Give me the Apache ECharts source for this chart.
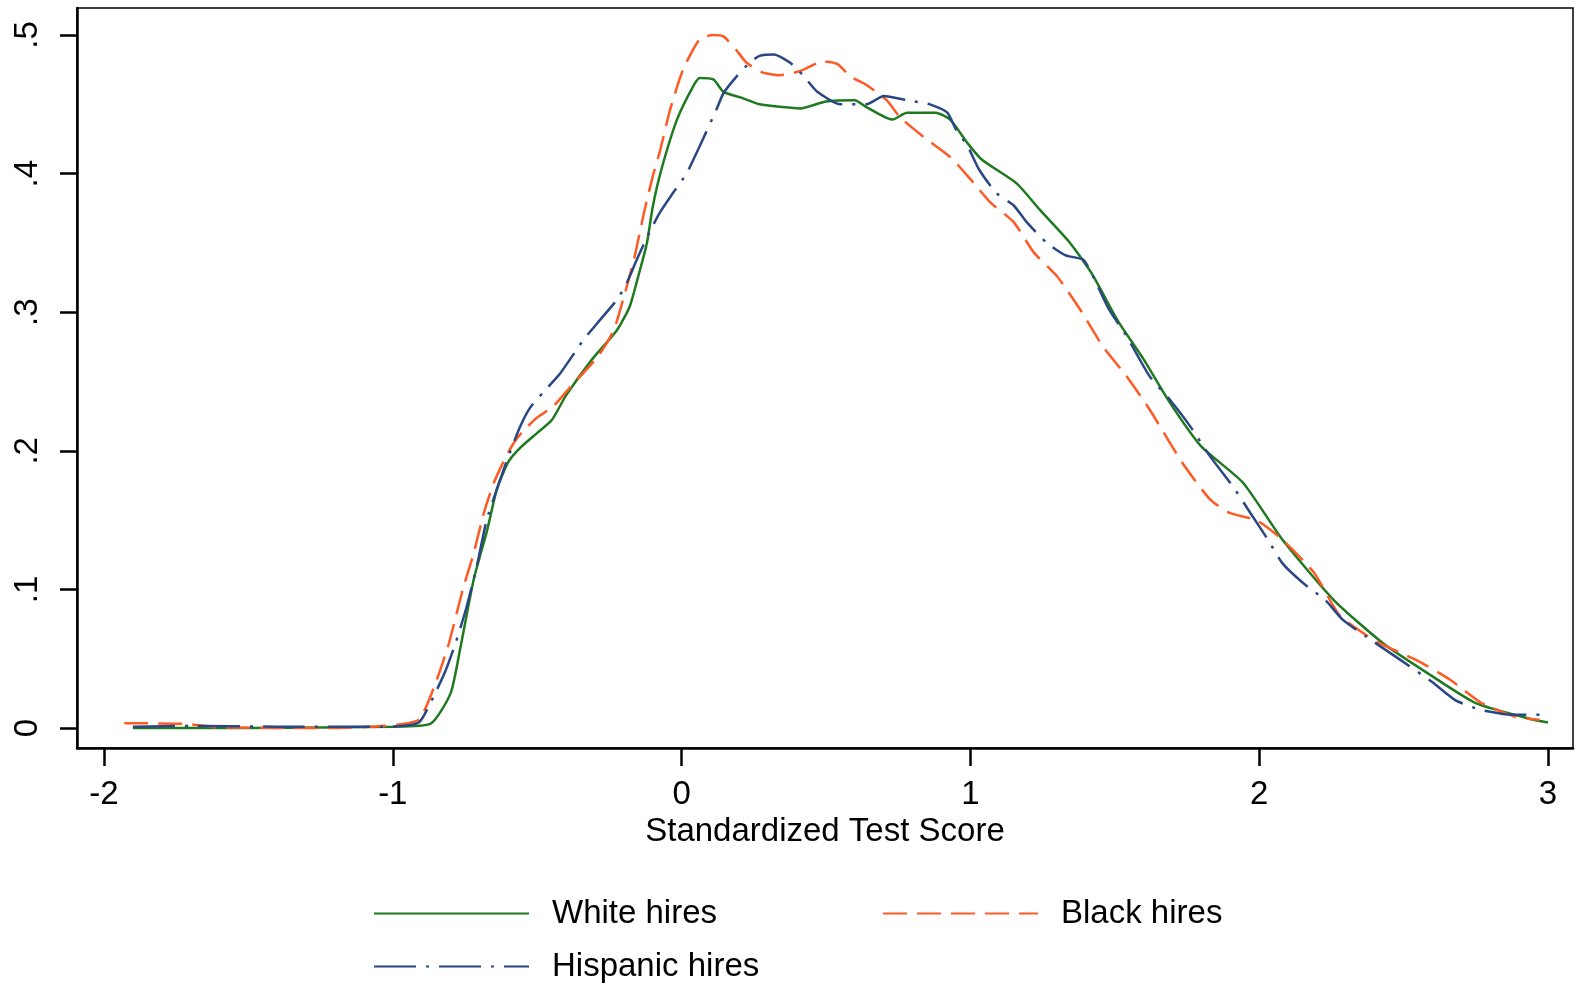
<!DOCTYPE html>
<html>
<head>
<meta charset="utf-8">
<script src="https://cdn.jsdelivr.net/npm/echarts@6/dist/echarts.min.js"></script>
<style>
  html, body { margin: 0; padding: 0; background: #fff; }
  #chart { width: 1576px; height: 983px; }
</style>
</head>
<body>
<div id="chart"></div>
<script>
// tick positions
var xTicks = [-2, -1, 0, 1, 2, 3];
var yTicks = [0, 0.1, 0.2, 0.3, 0.4, 0.5];

// White hires (kernel density)
var whiteX = [-1.90, -1.50, -1.00, -0.87, -0.80, -0.766, -0.72, -0.673, -0.64, -0.60, -0.56, -0.50, -0.45, -0.40, -0.31, -0.224, -0.18, -0.15, -0.12, -0.10, -0.07, -0.016, 0.04, 0.063, 0.11, 0.145, 0.204, 0.27, 0.35, 0.41, 0.50, 0.60, 0.64, 0.73, 0.78, 0.88, 0.93, 0.99, 1.04, 1.16, 1.24, 1.345, 1.42, 1.51, 1.60, 1.69, 1.80, 1.944, 2.08, 2.26, 2.43, 2.58, 2.75, 2.95, 3.00];
var whiteY = [0, 0, 0.001, 0.003, 0.025, 0.058, 0.107, 0.143, 0.172, 0.192, 0.202, 0.213, 0.222, 0.240, 0.266, 0.287, 0.304, 0.326, 0.350, 0.376, 0.403, 0.439, 0.463, 0.469, 0.468, 0.459, 0.455, 0.450, 0.448, 0.447, 0.452, 0.453, 0.448, 0.439, 0.444, 0.444, 0.439, 0.422, 0.410, 0.393, 0.374, 0.350, 0.328, 0.294, 0.266, 0.235, 0.203, 0.177, 0.136, 0.092, 0.061, 0.040, 0.018, 0.006, 0.004];

// Black hires
var blackX = [-1.93, -1.72, -1.60, -1.20, -1.00, -0.91, -0.86, -0.81, -0.755, -0.72, -0.685, -0.65, -0.61, -0.58, -0.55, -0.50, -0.445, -0.385, -0.29, -0.235, -0.20, -0.165, -0.13, -0.10, -0.074, -0.04, 0.005, 0.063, 0.11, 0.145, 0.19, 0.225, 0.28, 0.34, 0.41, 0.49, 0.54, 0.585, 0.64, 0.71, 0.755, 0.835, 0.93, 1.00, 1.07, 1.15, 1.22, 1.30, 1.38, 1.46, 1.54, 1.62, 1.735, 1.83, 1.90, 1.99, 2.08, 2.19, 2.28, 2.41, 2.545, 2.66, 2.77, 2.89, 2.97];
var blackY = [0.0035, 0.003, 0.0005, 0, 0.002, 0.006, 0.028, 0.058, 0.102, 0.126, 0.155, 0.177, 0.195, 0.206, 0.214, 0.224, 0.232, 0.246, 0.268, 0.287, 0.311, 0.338, 0.372, 0.398, 0.417, 0.446, 0.475, 0.497, 0.500, 0.499, 0.489, 0.480, 0.473, 0.471, 0.474, 0.481, 0.479, 0.470, 0.464, 0.453, 0.441, 0.427, 0.412, 0.396, 0.379, 0.365, 0.343, 0.326, 0.302, 0.275, 0.254, 0.230, 0.191, 0.165, 0.155, 0.150, 0.136, 0.112, 0.081, 0.062, 0.049, 0.035, 0.018, 0.008, 0.006];

// Hispanic hires
var hispX = [-1.90, -1.70, -1.40, -1.00, -0.91, -0.87, -0.82, -0.78, -0.745, -0.71, -0.675, -0.64, -0.605, -0.56, -0.525, -0.48, -0.42, -0.34, -0.28, -0.224, -0.19, -0.155, -0.12, -0.075, -0.03, 0.017, 0.045, 0.063, 0.12, 0.145, 0.19, 0.235, 0.27, 0.32, 0.376, 0.42, 0.47, 0.55, 0.64, 0.70, 0.78, 0.86, 0.92, 0.95, 0.99, 1.03, 1.09, 1.15, 1.195, 1.265, 1.33, 1.39, 1.42, 1.48, 1.54, 1.62, 1.69, 1.76, 1.83, 1.91, 1.97, 2.03, 2.08, 2.15, 2.23, 2.29, 2.37, 2.49, 2.60, 2.68, 2.77, 2.89, 2.98];
var hispY = [0.001, 0.0015, 0.001, 0.001, 0.004, 0.018, 0.040, 0.063, 0.087, 0.116, 0.150, 0.172, 0.193, 0.217, 0.231, 0.242, 0.256, 0.280, 0.295, 0.309, 0.321, 0.338, 0.354, 0.372, 0.386, 0.400, 0.412, 0.420, 0.446, 0.458, 0.470, 0.480, 0.485, 0.486, 0.480, 0.471, 0.459, 0.450, 0.450, 0.456, 0.453, 0.450, 0.444, 0.432, 0.420, 0.403, 0.386, 0.377, 0.365, 0.350, 0.341, 0.338, 0.328, 0.302, 0.283, 0.254, 0.237, 0.218, 0.196, 0.174, 0.155, 0.136, 0.119, 0.105, 0.092, 0.078, 0.066, 0.049, 0.033, 0.020, 0.013, 0.0095, 0.0095];

function pairs(xs, ys) {
    var out = [];
    for (var i = 0; i < xs.length; i++) out.push([xs[i], ys[i]]);
    return out;
}

var font = "'Liberation Sans', Arial, sans-serif";
var myChart = echarts.init(document.getElementById('chart'));

var legendBase = {
    orient: 'horizontal',
    padding: 0,
    itemWidth: 155,
    itemHeight: 20,
    itemStyle: { opacity: 0 },   // hide the dot, keep the line
    textStyle: { fontFamily: font, fontSize: 33, color: '#000', padding: [0, 0, 0, 18] }
};

var option = {
    animation: false,
    backgroundColor: '#fff',
    grid: {
        left: 77, right: 3, top: 8, bottom: 235,
        show: true, borderColor: '#000', borderWidth: 1.5
    },
    xAxis: {
        type: 'value',
        min: -2.0935, max: 3.0866,
        name: 'Standardized Test Score',
        nameLocation: 'middle',
        nameGap: 66,
        nameTextStyle: { fontFamily: font, fontSize: 33, color: '#000' },
        axisLine: { show: true, onZero: false, lineStyle: { color: '#000', width: 2.5 } },
        axisTick: { show: true, length: 18, customValues: xTicks, lineStyle: { color: '#000', width: 2.5 } },
        axisLabel: { customValues: xTicks, margin: 30, fontFamily: font, fontSize: 33, color: '#000' },
        splitLine: { show: false }
    },
    yAxis: {
        type: 'value',
        min: -0.0144, max: 0.5195,
        axisLine: { show: true, onZero: false, lineStyle: { color: '#000', width: 2.5 } },
        axisTick: { show: true, length: 17, customValues: yTicks, lineStyle: { color: '#000', width: 2.5 } },
        axisLabel: {
            customValues: yTicks, rotate: 90, margin: 33,
            fontFamily: font, fontSize: 33, color: '#000',
            formatter: function (v) { return v === 0 ? '0' : String(+v.toFixed(1)).replace(/^0/, ''); }
        },
        splitLine: { show: false }
    },
    legend: [
        Object.assign({}, legendBase, { data: ['White hires'], left: 373, top: 897 }),
        Object.assign({}, legendBase, { data: ['Black hires'], left: 882, top: 897 }),
        Object.assign({}, legendBase, { data: ['Hispanic hires'], left: 373, top: 950 })
    ],
    series: [
        {
            name: 'White hires', type: 'line', symbol: 'none', smooth: 0.2,
            lineStyle: { color: '#1f7a1f', width: 2.5, type: 'solid' },
            itemStyle: { color: '#1f7a1f' },
            data: pairs(whiteX, whiteY)
        },
        {
            name: 'Black hires', type: 'line', symbol: 'none', smooth: 0.2,
            lineStyle: { color: '#ff5a24', width: 2.5, type: [24, 10] },
            itemStyle: { color: '#ff5a24' },
            data: pairs(blackX, blackY)
        },
        {
            name: 'Hispanic hires', type: 'line', symbol: 'none', smooth: 0.2,
            lineStyle: { color: '#2a4785', width: 2.5, type: [42, 10, 3, 10] },
            itemStyle: { color: '#2a4785' },
            data: pairs(hispX, hispY)
        }
    ]
};

myChart.setOption(option);
</script>
</body>
</html>
